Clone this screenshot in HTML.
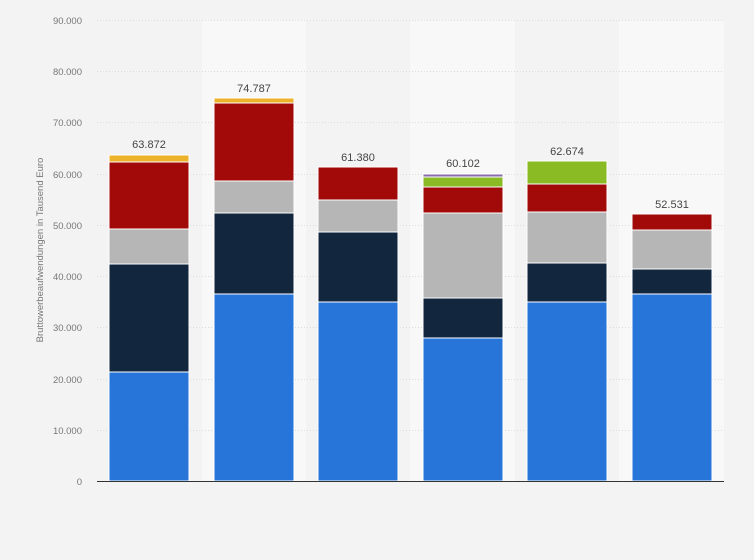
<!DOCTYPE html>
<html><head><meta charset="utf-8"><style>
html,body{margin:0;padding:0;background:#f3f3f3;}
svg{display:block;font-family:"Liberation Sans",sans-serif;}
</style></head><body>
<svg width="754" height="560" xmlns="http://www.w3.org/2000/svg">
<rect width="754" height="560" fill="#f3f3f3"/>
<rect x="202" y="20" width="104" height="461" fill="#f8f8f8"/>
<rect x="410" y="20" width="105" height="461" fill="#f8f8f8"/>
<rect x="619" y="20" width="105" height="461" fill="#f8f8f8"/>
<g stroke="#dcdcdc" stroke-dasharray="1,2" stroke-width="1">
<line x1="97" x2="724" y1="20.5" y2="20.5"/>
<line x1="97" x2="724" y1="71.5" y2="71.5"/>
<line x1="97" x2="724" y1="122.5" y2="122.5"/>
<line x1="97" x2="724" y1="174.5" y2="174.5"/>
<line x1="97" x2="724" y1="225.5" y2="225.5"/>
<line x1="97" x2="724" y1="276.5" y2="276.5"/>
<line x1="97" x2="724" y1="327.5" y2="327.5"/>
<line x1="97" x2="724" y1="379.5" y2="379.5"/>
<line x1="97" x2="724" y1="430.5" y2="430.5"/>
</g>
<g font-size="9.5" fill="#777" text-anchor="end">
<text x="82" y="24">90.000</text>
<text x="82" y="75">80.000</text>
<text x="82" y="126">70.000</text>
<text x="82" y="178">60.000</text>
<text x="82" y="229">50.000</text>
<text x="82" y="280">40.000</text>
<text x="82" y="331">30.000</text>
<text x="82" y="383">20.000</text>
<text x="82" y="434">10.000</text>
<text x="82" y="485">0</text>
</g>
<text transform="translate(43,250) rotate(-90)" font-size="9.5" fill="#777" text-anchor="middle">Bruttowerbeaufwendungen in Tausend Euro</text>
<g stroke="#fff" stroke-width="1">
<!-- bar1 -->
<rect x="109" y="372" width="80" height="109" fill="#2775d9"/>
<rect x="109" y="264" width="80" height="108" fill="#12263d"/>
<rect x="109" y="229" width="80" height="35" fill="#b6b6b6"/>
<rect x="109" y="162" width="80" height="67" fill="#a20a0a"/>
<rect x="109" y="155" width="80" height="7" fill="#ecb22a"/>
<!-- bar2 -->
<rect x="214" y="294" width="80" height="187" fill="#2775d9"/>
<rect x="214" y="213" width="80" height="81" fill="#12263d"/>
<rect x="214" y="181" width="80" height="32" fill="#b6b6b6"/>
<rect x="214" y="103" width="80" height="78" fill="#a20a0a"/>
<rect x="214" y="98" width="80" height="5" fill="#ecb22a"/>
<!-- bar3 -->
<rect x="318" y="302" width="80" height="179" fill="#2775d9"/>
<rect x="318" y="232" width="80" height="70" fill="#12263d"/>
<rect x="318" y="200" width="80" height="32" fill="#b6b6b6"/>
<rect x="318" y="167" width="80" height="33" fill="#a20a0a"/>
<!-- bar4 -->
<rect x="423" y="338" width="80" height="143" fill="#2775d9"/>
<rect x="423" y="298" width="80" height="40" fill="#12263d"/>
<rect x="423" y="213" width="80" height="85" fill="#b6b6b6"/>
<rect x="423" y="187" width="80" height="26" fill="#a20a0a"/>
<rect x="423" y="177" width="80" height="10" fill="#8aba24"/>
<rect x="423" y="174" width="80" height="3" fill="#8a6bb0"/>
<!-- bar5 -->
<rect x="527" y="302" width="80" height="179" fill="#2775d9"/>
<rect x="527" y="263" width="80" height="39" fill="#12263d"/>
<rect x="527" y="212" width="80" height="51" fill="#b6b6b6"/>
<rect x="527" y="184" width="80" height="28" fill="#a20a0a"/>
<rect x="527" y="161" width="80" height="23" fill="#8aba24"/>
<!-- bar6 -->
<rect x="632" y="294" width="80" height="187" fill="#2775d9"/>
<rect x="632" y="269" width="80" height="25" fill="#12263d"/>
<rect x="632" y="230" width="80" height="39" fill="#b6b6b6"/>
<rect x="632" y="214" width="80" height="16" fill="#a20a0a"/>
</g>
<line x1="97" x2="724" y1="481.5" y2="481.5" stroke="#333" stroke-width="1"/>
<g font-size="11" fill="#444" text-anchor="middle">
<text x="149" y="148">63.872</text>
<text x="254" y="92">74.787</text>
<text x="358" y="161">61.380</text>
<text x="463" y="167">60.102</text>
<text x="567" y="155">62.674</text>
<text x="672" y="208">52.531</text>
</g>
</svg>
</body></html>
